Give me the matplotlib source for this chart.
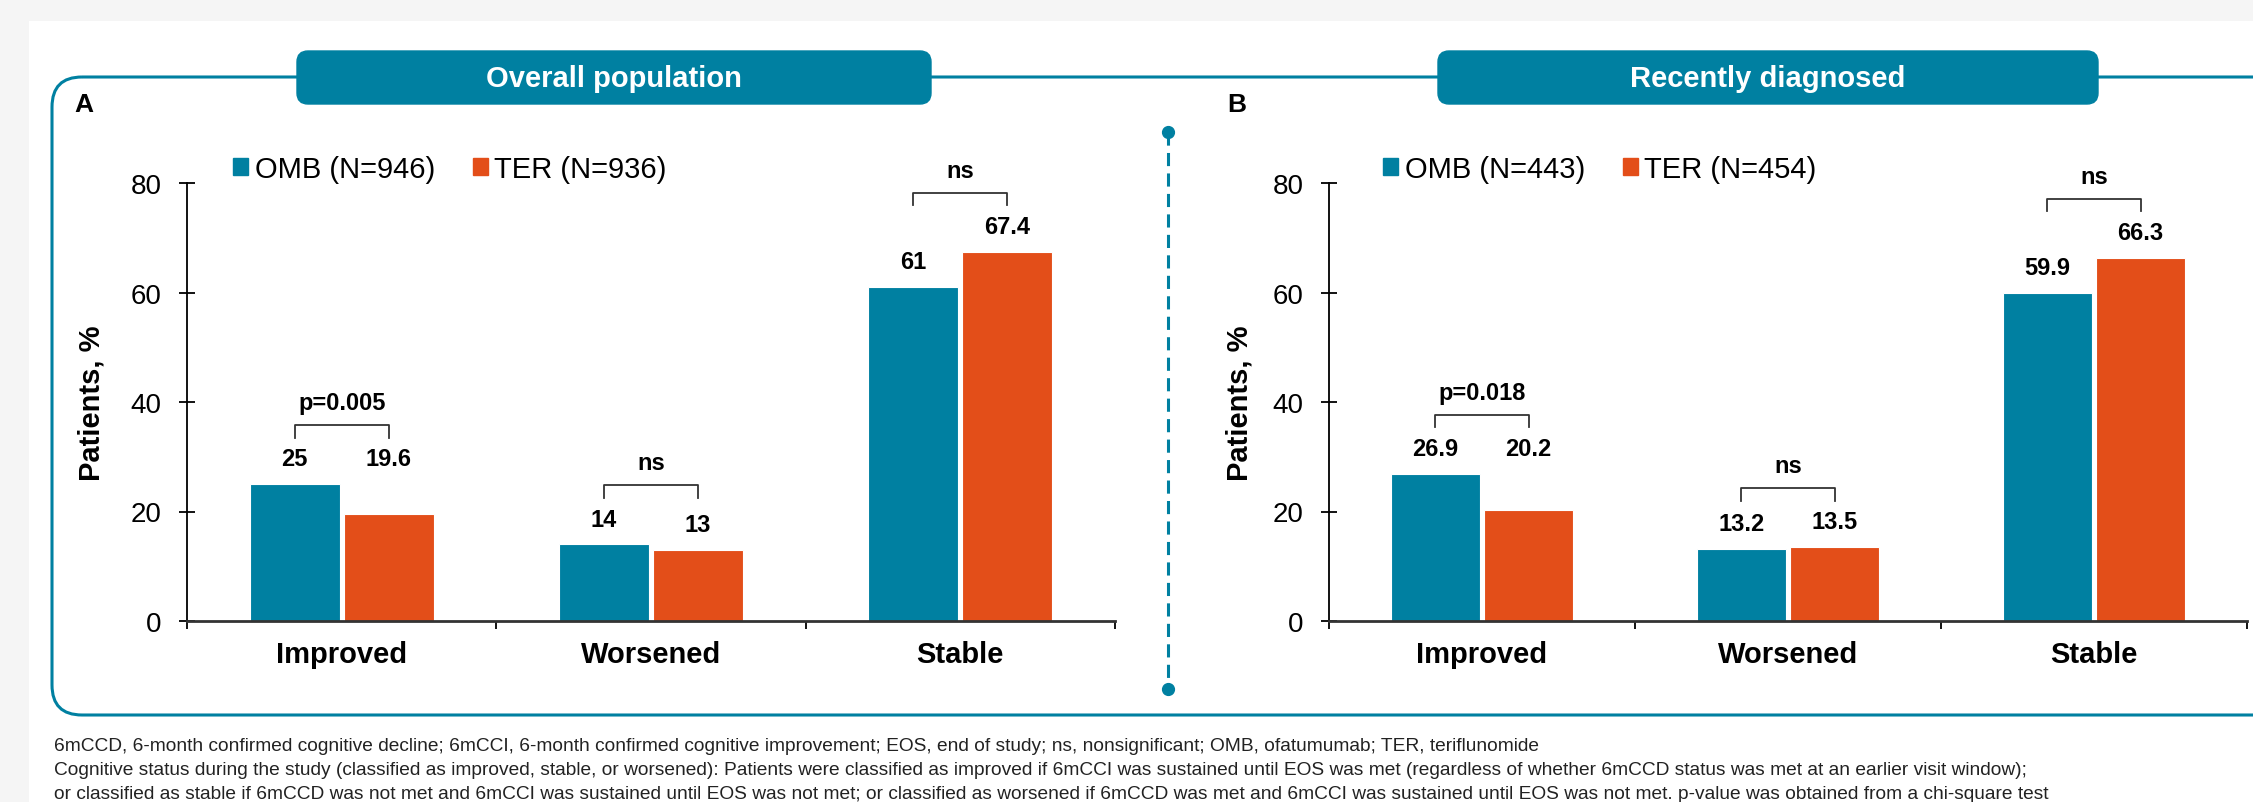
import matplotlib
matplotlib.use("Agg")
import matplotlib.pyplot as plt
import matplotlib.patches as mpatches
from matplotlib.patches import FancyBboxPatch

plt.rcParams["font.family"] = ["Liberation Sans", "DejaVu Sans"]

# ----------------------------------------------------------------- data
CATEGORIES = ["Improved", "Worsened", "Stable"]

OMB_OVERALL = [25, 14, 61]
TER_OVERALL = [19.6, 13, 67.4]
P_OVERALL = ["p=0.005", "ns", "ns"]
LEGEND_OVERALL = ["OMB (N=946)", "TER (N=936)"]

OMB_RECENT = [26.9, 13.2, 59.9]
TER_RECENT = [20.2, 13.5, 66.3]
P_RECENT = ["p=0.018", "ns", "ns"]
LEGEND_RECENT = ["OMB (N=443)", "TER (N=454)"]

PANEL_TITLES = ["Overall population", "Recently diagnosed"]
PANEL_LETTERS = ["A", "B"]
Y_TICKS = [0, 20, 40, 60, 80]

FOOTNOTES = [
    "6mCCD, 6-month confirmed cognitive decline; 6mCCI, 6-month confirmed cognitive improvement; "
    "EOS, end of study; ns, nonsignificant; OMB, ofatumumab; TER, teriflunomide",
    "Cognitive status during the study (classified as improved, stable, or worsened): Patients were "
    "classified as improved if 6mCCI was sustained until EOS was met (regardless of whether 6mCCD "
    "status was met at an earlier visit window);",
    "or classified as stable if 6mCCD was not met and 6mCCI was sustained until EOS was not met; or "
    "classified as worsened if 6mCCD was met and 6mCCI was sustained until EOS was not met. "
    "p-value was obtained from a chi-square test",
]

# ----------------------------------------------------------------- style
TEAL = "#0080A1"
ORANGE = "#E34E19"
W, H = 2253, 803
BAR_W = 0.29
OFFSET = 0.152


def px_rect(x0, y0, x1, y1):
    """pixel box (top-left origin) -> figure fraction rect"""
    return [x0 / W, 1 - y1 / H, (x1 - x0) / W, (y1 - y0) / H]


fig = plt.figure(figsize=(W / 100, H / 100), dpi=100, facecolor="#F5F5F5")

# background decoration drawn in pixel space
bg = fig.add_axes([0, 0, 1, 1], zorder=0)
bg.set_xlim(0, W)
bg.set_ylim(H, 0)
bg.axis("off")
bg.add_patch(mpatches.Rectangle((29, 22), W, H, facecolor="white", edgecolor="none"))
bg.add_patch(
    FancyBboxPatch(
        (52, 78), 2600, 716 - 78,
        boxstyle="round,pad=0,rounding_size=30",
        facecolor="none", edgecolor=TEAL, lw=2.2,
    )
)
for (x0, x1), title in zip([(297, 931), (1438, 2098)], PANEL_TITLES):
    bg.add_patch(
        FancyBboxPatch(
            (x0, 52), x1 - x0, 53,
            boxstyle="round,pad=0,rounding_size=11",
            facecolor=TEAL, edgecolor=TEAL, lw=1,
        )
    )
    bg.text((x0 + x1) / 2, 79, title, color="white", fontsize=21,
            fontweight="bold", ha="center", va="center")
for x, letter in zip([84, 1237], PANEL_LETTERS):
    bg.text(x, 105, letter, fontsize=19, fontweight="bold", ha="center", va="center")

# dashed divider between panels
bg.plot([1168, 1168], [133, 690], color=TEAL, lw=2.2, ls=(0, (4.3, 2.4)))
bg.plot([1168, 1168], [133, 690], color=TEAL, lw=0, marker="o", ms=8.5)

for i, line in enumerate(FOOTNOTES):
    bg.text(54, 747 + 24 * i, line, fontsize=13.8, color="#222222", va="center")


# ----------------------------------------------------------------- panels
def draw_panel(rect, omb, ter, pvals, legend_labels, legend_xy, ylabel_x):
    ax = fig.add_axes(rect, zorder=1)
    ax.set_facecolor("none")
    centers = [i + 0.5 for i in range(len(CATEGORIES))]
    x_omb = [c - OFFSET for c in centers]
    x_ter = [c + OFFSET for c in centers]
    ax.bar(x_omb, omb, BAR_W, color=TEAL, edgecolor="white", lw=0.8, zorder=2)
    ax.bar(x_ter, ter, BAR_W, color=ORANGE, edgecolor="white", lw=0.8, zorder=2)

    ax.set_xlim(0, 3)
    ax.set_ylim(0, 80)
    ax.set_yticks(Y_TICKS)
    ax.tick_params(axis="y", direction="inout", length=12, width=1.3, pad=12.5,
                   labelsize=20)
    ax.set_xticks([0, 1, 2, 3])
    ax.set_xticks(centers, minor=True)
    ax.set_xticklabels(CATEGORIES, minor=True, fontsize=21, fontweight="bold")
    ax.tick_params(axis="x", which="major", direction="out", length=6, width=1.3,
                   labelbottom=False)
    ax.tick_params(axis="x", which="minor", length=0, pad=14)
    for s in ["top", "right"]:
        ax.spines[s].set_visible(False)
    ax.spines["left"].set_linewidth(1.3)
    ax.spines["bottom"].set_linewidth(2.0)
    ax.spines["bottom"].set_color("#333333")

    ax.set_ylabel("Patients, %", fontsize=21, fontweight="bold")
    ax.yaxis.set_label_coords(ylabel_x, 0.5)

    # value labels (Improved pair shares a baseline)
    for i in range(len(CATEGORIES)):
        top = max(omb[i], ter[i])
        for x, v in [(x_omb[i], omb[i]), (x_ter[i], ter[i])]:
            y = (top if i == 0 else v) + 4.6
            ax.text(x, y, f"{v:g}", fontsize=17, fontweight="bold",
                    ha="center", va="center")
        b = top + 10.8
        ax.plot([x_omb[i], x_omb[i], x_ter[i], x_ter[i]], [b - 2.3, b, b, b - 2.3],
                color="#333333", lw=1.3, clip_on=False)
        ax.text(centers[i], b + 4.1, pvals[i], fontsize=17, fontweight="bold",
                ha="center", va="center")

    handles = [mpatches.Patch(color=TEAL), mpatches.Patch(color=ORANGE)]
    ax.legend(handles, legend_labels, loc="center left",
              bbox_to_anchor=(legend_xy[0] / W, 1 - legend_xy[1] / H),
              bbox_transform=fig.transFigure, ncol=2, frameon=False,
              fontsize=21, handlelength=0.52, handleheight=0.52,
              handletextpad=0.22, columnspacing=1.3, borderpad=0, borderaxespad=0)
    return ax


draw_panel(px_rect(187, 184, 1115, 622), OMB_OVERALL, TER_OVERALL, P_OVERALL,
           LEGEND_OVERALL, (233, 170), -81 / 928)
draw_panel(px_rect(1329, 184, 2247, 622), OMB_RECENT, TER_RECENT, P_RECENT,
           LEGEND_RECENT, (1383, 170), -76 / 918)

fig.savefig("out.png", dpi=100, facecolor=fig.get_facecolor())
